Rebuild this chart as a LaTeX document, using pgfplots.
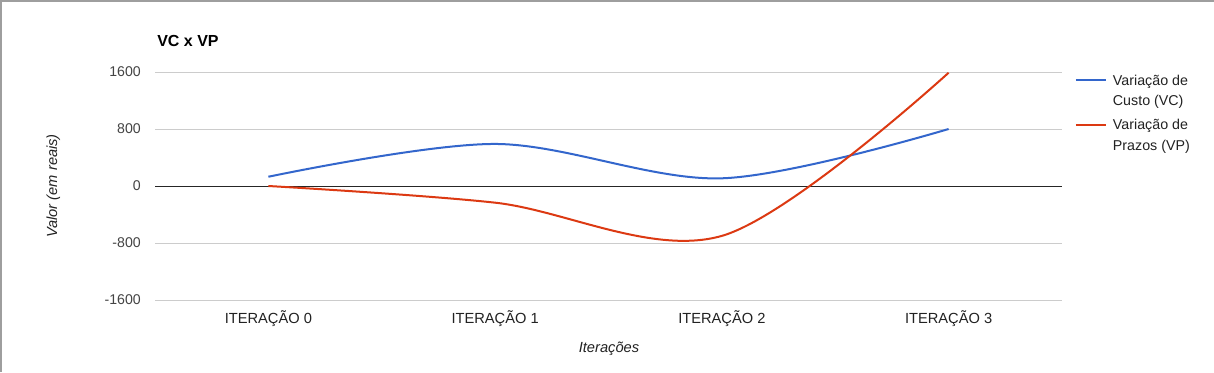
\documentclass[border=0pt]{standalone}
\usepackage{fontspec}
\setmainfont{Liberation Sans}
\usepackage{pgfplots}
\pgfplotsset{compat=1.18}
\definecolor{gblue}{HTML}{3366CC}
\definecolor{gred}{HTML}{DC3912}
\definecolor{gridc}{HTML}{CCCCCC}
\definecolor{txt}{HTML}{444444}
\definecolor{dtxt}{HTML}{222222}
\definecolor{frame}{HTML}{9E9E9E}
\begin{document}
\begin{tikzpicture}
\useasboundingbox (0,0) rectangle (910.5pt,279pt);
\fill[white] (0,0) rectangle (910.5pt,279pt);
\begin{axis}[
  at={(116.25pt,54pt)}, anchor=south west,
  scale only axis, width=680.25pt, height=171pt,
  xmin=-0.5, xmax=3.5, ymin=-1600, ymax=1600,
  xtick={0,1,2,3},
  xticklabels={ITERAÇÃO 0,ITERAÇÃO 1,ITERAÇÃO 2,ITERAÇÃO 3},
  ytick={-1600,-800,0,800,1600},
  yticklabels={-1600,-800,0,800,1600},
  axis line style={draw=none},
  tick style={draw=none},
  ymajorgrids, grid style={gridc, line width=0.75pt},
  xticklabel style={anchor=base, inner sep=0pt, yshift=-17.6pt, font=\fontsize{11}{13}\selectfont, text=dtxt},
  yticklabel style={anchor=east, inner sep=0pt, xshift=-10.5pt, font=\fontsize{10.6}{12}\selectfont, text=txt},
  legend cell align=left,
  legend style={at={(1,1)}, anchor=north west, xshift=9.5pt, yshift=0pt,
    draw=none, fill=none, inner sep=0pt,
    font=\fontsize{10.7}{15.5}\selectfont, text=dtxt,
    nodes={align=left, inner sep=2pt},
    row sep=4.5pt},
  legend image code/.code={\draw[#1] (0pt,8.25pt) -- (22.5pt,8.25pt); \path (25pt,0pt);},
]
\draw[black!85, line width=0.75pt] (axis cs:-0.5,0) -- (axis cs:3.5,0);
\addplot[gblue, line width=1.5pt, smooth, tension=0.55] coordinates {(0,130) (1,590) (2,108) (3,800)};
\addlegendentry{Variação de\\Custo (VC)}
\addplot[gred, line width=1.5pt, smooth, tension=0.55] coordinates {(0,0) (1,-234) (2,-700) (3,1590)};
\addlegendentry{Variação de\\Prazos (VP)}
\end{axis}
\node[anchor=base west, inner sep=0pt, font=\bfseries\fontsize{12}{14}\selectfont] at (117.75pt,244.2pt) {VC x VP};
\node[anchor=base, inner sep=0pt, font=\itshape\fontsize{11}{13}\selectfont, text=dtxt] at (456.75pt,14.5pt) {Iterações};
\node[rotate=90, inner sep=0pt, font=\itshape\fontsize{11}{13}\selectfont, text=dtxt] at (40pt,139.5pt) {Valor (em reais)};
\draw[frame, line width=1.5pt] (0.75pt,0) -- (0.75pt,278.25pt) -- (910.5pt,278.25pt);
\end{tikzpicture}
\end{document}
